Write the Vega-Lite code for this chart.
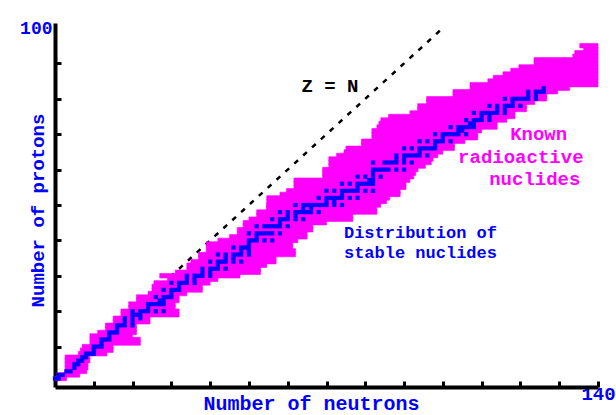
{
  "$schema": "https://vega.github.io/schema/vega-lite/v6.json",
  "width": 543,
  "height": 364,
  "autosize": {"type": "none"},
  "padding": {"left": 55, "top": 23, "right": 18, "bottom": 28},
  "background": "#ffffff",
  "config": {"view": {"stroke": null}},
  "datasets": {
    "diag": [{"n": 0, "z": 0}, {"n": 100, "z": 100}],
    "radio": [
      {"z":1,"n1":0,"n2":3},{"z":2,"n1":0.5,"n2":6.4},{"z":3,"n1":2.5,"n2":8.2},{"z":4,"n1":2.6,"n2":8.5},
      {"z":5,"n1":2.6,"n2":8.5},{"z":6,"n1":2.6,"n2":9},{"z":7,"n1":2.6,"n2":9},{"z":8,"n1":6,"n2":13.4},
      {"z":9,"n1":6.5,"n2":15},{"z":10,"n1":7,"n2":15},{"z":11,"n1":9,"n2":22},{"z":12,"n1":9,"n2":22},
      {"z":13,"n1":9,"n2":20},{"z":14,"n1":11,"n2":21},{"z":15,"n1":13,"n2":21},{"z":16,"n1":13,"n2":21},
      {"z":17,"n1":15,"n2":24.5},{"z":18,"n1":15,"n2":24.5},{"z":19,"n1":17,"n2":32},{"z":20,"n1":17,"n2":32},
      {"z":21,"n1":19,"n2":31},{"z":22,"n1":19,"n2":31},{"z":23,"n1":21,"n2":32},{"z":24,"n1":21,"n2":32},
      {"z":25,"n1":24,"n2":34},{"z":26,"n1":25,"n2":38},{"z":27,"n1":25,"n2":38},{"z":28,"n1":25.5,"n2":40},
      {"z":29,"n1":29,"n2":42},{"z":30,"n1":27,"n2":47.7},{"z":31,"n1":31,"n2":53},{"z":32,"n1":34,"n2":53},
      {"z":33,"n1":34,"n2":54.6},{"z":34,"n1":35,"n2":57},{"z":35,"n1":37,"n2":57},{"z":36,"n1":37,"n2":62},
      {"z":37,"n1":39,"n2":62},{"z":38,"n1":39,"n2":61.3},{"z":39,"n1":39,"n2":61.3},{"z":40,"n1":42,"n2":62.6},
      {"z":41,"n1":45,"n2":65},{"z":42,"n1":47,"n2":65},{"z":43,"n1":47,"n2":66.5},{"z":44,"n1":48.5,"n2":66.5},
      {"z":45,"n1":48.5,"n2":70},{"z":46,"n1":50,"n2":76.8},{"z":47,"n1":52,"n2":76.8},{"z":48,"n1":52,"n2":83},
      {"z":49,"n1":54.5,"n2":83},{"z":50,"n1":54.5,"n2":84},{"z":51,"n1":54.6,"n2":85.5},{"z":52,"n1":54.6,"n2":86.3},
      {"z":53,"n1":58,"n2":89},{"z":54,"n1":59.7,"n2":89},{"z":55,"n1":61.6,"n2":90.5},{"z":56,"n1":61.6,"n2":90.5},
      {"z":57,"n1":61.6,"n2":91.5},{"z":58,"n1":69,"n2":92.5},{"z":59,"n1":69,"n2":93},{"z":60,"n1":69,"n2":93.6},
      {"z":61,"n1":70.6,"n2":95.5},{"z":62,"n1":70.6,"n2":97},{"z":63,"n1":70.6,"n2":97.5},{"z":64,"n1":72.6,"n2":98.7},
      {"z":65,"n1":74.5,"n2":100},{"z":66,"n1":75,"n2":103},{"z":67,"n1":79,"n2":103},{"z":68,"n1":79,"n2":105.7},
      {"z":69,"n1":81.7,"n2":109},{"z":70,"n1":81.7,"n2":109},{"z":71,"n1":81.7,"n2":110},{"z":72,"n1":83,"n2":114},
      {"z":73,"n1":83.5,"n2":114},{"z":74,"n1":84,"n2":116.5},{"z":75,"n1":86,"n2":118.6},{"z":76,"n1":91.5,"n2":118.6},
      {"z":77,"n1":93.5,"n2":121.6},{"z":78,"n1":93.5,"n2":121.6},{"z":79,"n1":95.8,"n2":123.7},{"z":80,"n1":95.8,"n2":126.8},
      {"z":81,"n1":102.6,"n2":126.8},{"z":82,"n1":102.6,"n2":129.6},{"z":83,"n1":107,"n2":132.7},{"z":84,"n1":107,"n2":140},
      {"z":85,"n1":111.6,"n2":140},{"z":86,"n1":113,"n2":140},{"z":87,"n1":115.5,"n2":140},{"z":88,"n1":117.5,"n2":140},
      {"z":89,"n1":119.6,"n2":140},{"z":90,"n1":123.5,"n2":140},{"z":91,"n1":123.5,"n2":140},{"z":92,"n1":133.5,"n2":140},
      {"z":93,"n1":134,"n2":140},{"z":94,"n1":136.3,"n2":140},{"z":95,"n1":135.3,"n2":140}
    ],
    "stable": [
      {"z":1,"n":0},{"z":1,"n":1},{"z":2,"n":1},{"z":2,"n":2},{"z":3,"n":3},{"z":3,"n":4},{"z":4,"n":5},
      {"z":5,"n":5},{"z":5,"n":6},{"z":6,"n":6},{"z":6,"n":7},{"z":7,"n":7},{"z":7,"n":8},
      {"z":8,"n":8},{"z":8,"n":9},{"z":8,"n":10},{"z":9,"n":10},{"z":10,"n":10},{"z":10,"n":11},{"z":10,"n":12},
      {"z":11,"n":12},{"z":12,"n":12},{"z":12,"n":13},{"z":12,"n":14},{"z":13,"n":14},
      {"z":14,"n":14},{"z":14,"n":15},{"z":14,"n":16},{"z":15,"n":16},
      {"z":16,"n":16},{"z":16,"n":17},{"z":16,"n":18},{"z":16,"n":20},{"z":17,"n":18},{"z":17,"n":20},
      {"z":18,"n":18},{"z":18,"n":20},{"z":18,"n":22},{"z":19,"n":20},{"z":19,"n":21},{"z":19,"n":22},
      {"z":20,"n":20},{"z":20,"n":22},{"z":20,"n":23},{"z":20,"n":24},{"z":20,"n":26},{"z":20,"n":28},
      {"z":21,"n":24},{"z":22,"n":24},{"z":22,"n":25},{"z":22,"n":26},{"z":22,"n":27},{"z":22,"n":28},
      {"z":23,"n":27},{"z":23,"n":28},{"z":24,"n":26},{"z":24,"n":28},{"z":24,"n":29},{"z":24,"n":30},
      {"z":25,"n":30},{"z":26,"n":28},{"z":26,"n":30},{"z":26,"n":31},{"z":26,"n":32},{"z":27,"n":32},
      {"z":28,"n":30},{"z":28,"n":32},{"z":28,"n":33},{"z":28,"n":34},{"z":28,"n":36},{"z":29,"n":34},{"z":29,"n":36},
      {"z":30,"n":34},{"z":30,"n":36},{"z":30,"n":37},{"z":30,"n":38},{"z":30,"n":40},{"z":31,"n":38},{"z":31,"n":40},
      {"z":32,"n":38},{"z":32,"n":40},{"z":32,"n":41},{"z":32,"n":42},{"z":32,"n":44},{"z":33,"n":42},
      {"z":34,"n":40},{"z":34,"n":42},{"z":34,"n":43},{"z":34,"n":44},{"z":34,"n":46},{"z":34,"n":48},
      {"z":35,"n":44},{"z":35,"n":46},
      {"z":36,"n":42},{"z":36,"n":44},{"z":36,"n":46},{"z":36,"n":47},{"z":36,"n":48},{"z":36,"n":50},
      {"z":37,"n":48},{"z":37,"n":50},{"z":38,"n":46},{"z":38,"n":48},{"z":38,"n":49},{"z":38,"n":50},{"z":39,"n":50},
      {"z":40,"n":50},{"z":40,"n":51},{"z":40,"n":52},{"z":40,"n":54},{"z":40,"n":56},{"z":41,"n":52},
      {"z":42,"n":50},{"z":42,"n":52},{"z":42,"n":53},{"z":42,"n":54},{"z":42,"n":55},{"z":42,"n":56},{"z":42,"n":58},
      {"z":44,"n":52},{"z":44,"n":54},{"z":44,"n":55},{"z":44,"n":56},{"z":44,"n":57},{"z":44,"n":58},{"z":44,"n":60},
      {"z":45,"n":58},
      {"z":46,"n":56},{"z":46,"n":58},{"z":46,"n":59},{"z":46,"n":60},{"z":46,"n":62},{"z":46,"n":64},
      {"z":47,"n":60},{"z":47,"n":62},
      {"z":48,"n":58},{"z":48,"n":60},{"z":48,"n":62},{"z":48,"n":63},{"z":48,"n":64},{"z":48,"n":65},{"z":48,"n":66},{"z":48,"n":68},
      {"z":49,"n":64},{"z":49,"n":66},
      {"z":50,"n":62},{"z":50,"n":64},{"z":50,"n":65},{"z":50,"n":66},{"z":50,"n":67},{"z":50,"n":68},{"z":50,"n":69},{"z":50,"n":70},{"z":50,"n":72},{"z":50,"n":74},
      {"z":51,"n":70},{"z":51,"n":72},
      {"z":52,"n":68},{"z":52,"n":70},{"z":52,"n":71},{"z":52,"n":72},{"z":52,"n":73},{"z":52,"n":74},{"z":52,"n":76},{"z":52,"n":78},
      {"z":53,"n":74},
      {"z":54,"n":70},{"z":54,"n":72},{"z":54,"n":74},{"z":54,"n":75},{"z":54,"n":76},{"z":54,"n":77},{"z":54,"n":78},{"z":54,"n":80},{"z":54,"n":82},
      {"z":55,"n":78},
      {"z":56,"n":74},{"z":56,"n":76},{"z":56,"n":78},{"z":56,"n":79},{"z":56,"n":80},{"z":56,"n":81},{"z":56,"n":82},
      {"z":57,"n":81},{"z":57,"n":82},
      {"z":58,"n":78},{"z":58,"n":80},{"z":58,"n":82},{"z":58,"n":84},{"z":59,"n":82},
      {"z":60,"n":82},{"z":60,"n":83},{"z":60,"n":84},{"z":60,"n":85},{"z":60,"n":86},{"z":60,"n":88},{"z":60,"n":90},
      {"z":62,"n":82},{"z":62,"n":85},{"z":62,"n":86},{"z":62,"n":87},{"z":62,"n":88},{"z":62,"n":90},{"z":62,"n":92},
      {"z":63,"n":88},{"z":63,"n":90},
      {"z":64,"n":88},{"z":64,"n":90},{"z":64,"n":91},{"z":64,"n":92},{"z":64,"n":93},{"z":64,"n":94},{"z":64,"n":96},
      {"z":65,"n":94},
      {"z":66,"n":90},{"z":66,"n":92},{"z":66,"n":94},{"z":66,"n":95},{"z":66,"n":96},{"z":66,"n":97},{"z":66,"n":98},
      {"z":67,"n":98},
      {"z":68,"n":94},{"z":68,"n":96},{"z":68,"n":98},{"z":68,"n":99},{"z":68,"n":100},{"z":68,"n":102},
      {"z":69,"n":100},
      {"z":70,"n":98},{"z":70,"n":100},{"z":70,"n":101},{"z":70,"n":102},{"z":70,"n":103},{"z":70,"n":104},{"z":70,"n":106},
      {"z":71,"n":104},{"z":71,"n":105},
      {"z":72,"n":102},{"z":72,"n":104},{"z":72,"n":105},{"z":72,"n":106},{"z":72,"n":107},{"z":72,"n":108},
      {"z":73,"n":107},{"z":73,"n":108},
      {"z":74,"n":106},{"z":74,"n":108},{"z":74,"n":109},{"z":74,"n":110},{"z":74,"n":112},
      {"z":75,"n":110},{"z":75,"n":112},
      {"z":76,"n":108},{"z":76,"n":110},{"z":76,"n":111},{"z":76,"n":112},{"z":76,"n":113},{"z":76,"n":114},{"z":76,"n":116},
      {"z":77,"n":114},{"z":77,"n":116},
      {"z":78,"n":112},{"z":78,"n":114},{"z":78,"n":116},{"z":78,"n":117},{"z":78,"n":118},{"z":78,"n":120},
      {"z":79,"n":118},
      {"z":80,"n":116},{"z":80,"n":118},{"z":80,"n":119},{"z":80,"n":120},{"z":80,"n":121},{"z":80,"n":122},{"z":80,"n":124},
      {"z":81,"n":122},{"z":81,"n":124},
      {"z":82,"n":122},{"z":82,"n":124},{"z":82,"n":125},{"z":82,"n":126},
      {"z":83,"n":126}
    ],
    "zn": [{"n": 70.9, "z": 83.5, "label": "Z = N"}],
    "known": [
      {"n": 124.7, "z": 70.0, "label": "Known"},
      {"n": 120.1, "z": 63.6, "label": "radioactive"},
      {"n": 123.7, "z": 57.4, "label": "nuclides"}
    ],
    "stabletext": [
      {"n": 74.5, "z": 42.0, "label": "Distribution of"},
      {"n": 74.5, "z": 36.3, "label": "stable nuclides"}
    ]
  },
  "layer": [
    {
      "data": {"name": "diag"},
      "mark": {"type": "line", "color": "#000000", "strokeWidth": 2.5, "strokeDash": [5, 7]},
      "encoding": {
        "x": {
          "field": "n", "type": "quantitative",
          "scale": {"domain": [0, 140], "nice": false, "zero": false},
          "axis": {
            "title": "Number of neutrons",
            "values": [10, 20, 30, 40, 50, 60, 70, 80, 90, 100, 110, 120, 130, 140],
            "labelExpr": "datum.value == 140 ? '140' : ''",
            "grid": false,
            "domainColor": "#000000", "domainWidth": 4,
            "tickColor": "#000000", "tickWidth": 3, "tickSize": -6,
            "labelFont": "Liberation Mono", "labelFontWeight": "bold", "labelFontSize": 19,
            "labelColor": "#0000ff", "labelPadding": 3, "labelFlush": false, "labelOverlap": false,
            "titleFont": "Liberation Mono", "titleFontWeight": "bold", "titleFontSize": 20,
            "titleColor": "#0000ff", "titleX": 256, "titleY": 16, "titleBaseline": "middle", "titleAlign": "center"
          }
        },
        "y": {
          "field": "z", "type": "quantitative",
          "scale": {"domain": [0, 100], "nice": false, "zero": false},
          "axis": {
            "title": "Number of protons",
            "values": [10, 20, 30, 40, 50, 60, 70, 80, 90, 100],
            "labelExpr": "datum.value == 100 ? '100' : ''",
            "grid": false,
            "domainColor": "#000000", "domainWidth": 4,
            "tickColor": "#000000", "tickWidth": 3, "tickSize": -6,
            "tickOpacity": {"condition": {"test": "datum.value == 100", "value": 0}, "value": 1},
            "labelFont": "Liberation Mono", "labelFontWeight": "bold", "labelFontSize": 18,
            "labelColor": "#0000ff", "labelPadding": 9, "labelOverlap": false,
            "titleFont": "Liberation Mono", "titleFontWeight": "bold", "titleFontSize": 19,
            "titleColor": "#0000ff", "titleX": -18, "titleY": 187, "titleBaseline": "middle", "titleAlign": "center"
          }
        }
      }
    },
    {
      "data": {"name": "radio"},
      "mark": {"type": "bar", "orient": "horizontal", "size": 4.5, "color": "#ff00ff", "opacity": 1, "fillOpacity": 1, "stroke": "#ff00ff", "strokeWidth": 0.6, "strokeOpacity": 1},
      "encoding": {
        "y": {"field": "z", "type": "quantitative"},
        "x": {"field": "n1", "type": "quantitative"},
        "x2": {"field": "n2"}
      }
    },
    {
      "data": {"name": "stable"},
      "mark": {"type": "square", "size": 18, "color": "#0000ff", "opacity": 1, "filled": true},
      "encoding": {
        "x": {"field": "n", "type": "quantitative"},
        "y": {"field": "z", "type": "quantitative"}
      }
    },
    {
      "data": {"name": "zn"},
      "mark": {"type": "text", "font": "Liberation Mono", "fontWeight": "bold", "fontSize": 19, "color": "#000000", "align": "center", "baseline": "middle"},
      "encoding": {
        "x": {"field": "n", "type": "quantitative"},
        "y": {"field": "z", "type": "quantitative"},
        "text": {"field": "label"}
      }
    },
    {
      "data": {"name": "known"},
      "mark": {"type": "text", "font": "Liberation Mono", "fontWeight": "bold", "fontSize": 19, "color": "#ff00ff", "align": "center", "baseline": "middle"},
      "encoding": {
        "x": {"field": "n", "type": "quantitative"},
        "y": {"field": "z", "type": "quantitative"},
        "text": {"field": "label"}
      }
    },
    {
      "data": {"name": "stabletext"},
      "mark": {"type": "text", "font": "Liberation Mono", "fontWeight": "bold", "fontSize": 17, "color": "#0000ff", "align": "left", "baseline": "middle"},
      "encoding": {
        "x": {"field": "n", "type": "quantitative"},
        "y": {"field": "z", "type": "quantitative"},
        "text": {"field": "label"}
      }
    }
  ]
}
